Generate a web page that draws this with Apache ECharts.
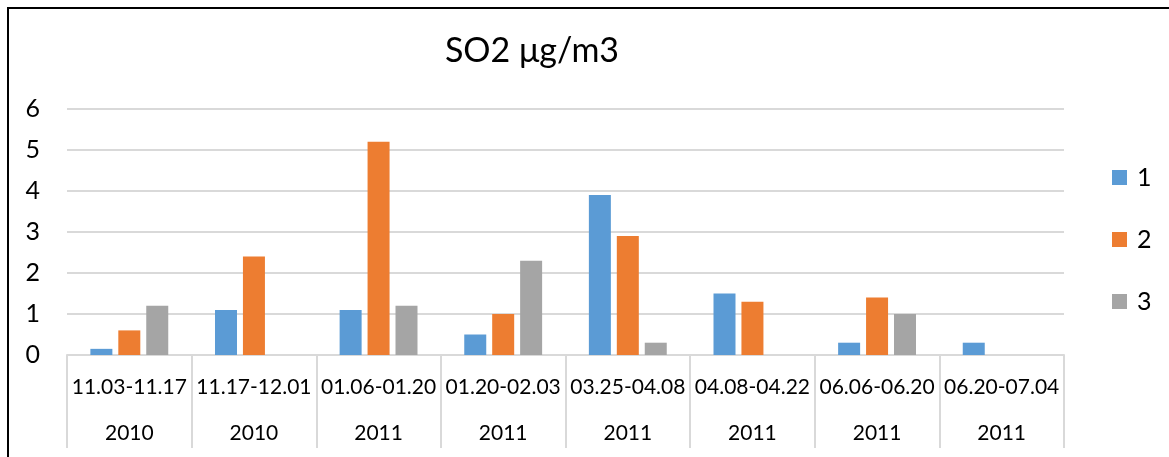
<!DOCTYPE html>
<html>
<head>
<meta charset="utf-8">
<title>SO2 μg/m3</title>
<script src="https://cdn.jsdelivr.net/npm/echarts@6/dist/echarts.min.js"></script>
<style>
  html, body { margin: 0; padding: 0; background: #fff; }
  #chart { width: 1169px; height: 457px; }
</style>
</head>
<body>
<div id="chart"></div>
<script>
// categories (two levels: period / year)
var periods = ["11.03-11.17", "11.17-12.01", "01.06-01.20", "01.20-02.03",
               "03.25-04.08", "04.08-04.22", "06.06-06.20", "06.20-07.04"];
var years = ["2010", "2010", "2011", "2011", "2011", "2011", "2011", "2011"];

// series values ('-' = no bar)
var series1 = [0.15, 1.1, 1.1, 0.5, 3.9, 1.5, 0.3, 0.3];
var series2 = [0.6, 2.4, 5.2, 1.0, 2.9, 1.3, 1.4, '-'];
var series3 = [1.2, '-', 1.2, 2.3, 0.3, '-', 1.0, '-'];

var seriesNames = ["1", "2", "3"];
var colors = ["#5b9bd5", "#ed7d31", "#a5a5a5"];

var font = "Lato, 'Open Sans', sans-serif";
var gridColor = "#d9d9d9";

var chart = echarts.init(document.getElementById("chart"));

function bar(name, data, color) {
    return {
        name: name,
        type: "bar",
        data: data,
        xAxisIndex: 0,
        barWidth: 22,
        barGap: "27%",
        itemStyle: { color: color },
        animation: false
    };
}

chart.setOption({
    color: colors,
    title: {
        text: "SO2 μg/m3",
        left: 527,
        top: 29,
        textAlign: "center",
        textStyle: { fontFamily: font, fontSize: 34, fontWeight: "normal", color: "#000" }
    },
    legend: {
        orient: "vertical",
        left: 1107,
        top: 160,
        itemWidth: 15,
        itemHeight: 15,
        itemGap: 37,
        icon: "rect",
        data: seriesNames,
        textStyle: { fontFamily: font, fontSize: 25, color: "#000", padding: [0, 0, 0, 5] }
    },
    grid: {
        left: 67,
        right: 105,
        top: 109,
        bottom: 102
    },
    xAxis: [
        {
            type: "category",
            data: periods,
            axisLine: { lineStyle: { color: gridColor, width: 2 } },
            axisTick: { show: true, interval: 0, length: 93, lineStyle: { color: gridColor, width: 2 } },
            axisLabel: {
                interval: 0,
                margin: 32,
                verticalAlign: "middle",
                fontFamily: font,
                fontSize: 21,
                color: "#000"
            }
        },
        {
            type: "category",
            data: years,
            position: "bottom",
            axisLine: { show: false },
            axisTick: { show: false },
            axisLabel: {
                interval: 0,
                margin: 78,
                verticalAlign: "middle",
                fontFamily: font,
                fontSize: 21,
                color: "#000"
            }
        }
    ],
    yAxis: {
        type: "value",
        min: 0,
        max: 6,
        interval: 1,
        axisLine: { show: false },
        axisTick: { show: false },
        axisLabel: { margin: 27, fontFamily: font, fontSize: 25, color: "#000" },
        splitLine: { lineStyle: { color: gridColor, width: 2 } }
    },
    graphic: [
        {
            type: "polyline",
            shape: { points: [[8, 457], [8, 8], [1169, 8]] },
            style: { stroke: "#000", lineWidth: 2, fill: null }
        }
    ],
    series: [
        bar(seriesNames[0], series1, colors[0]),
        bar(seriesNames[1], series2, colors[1]),
        bar(seriesNames[2], series3, colors[2])
    ]
});
</script>
</body>
</html>
